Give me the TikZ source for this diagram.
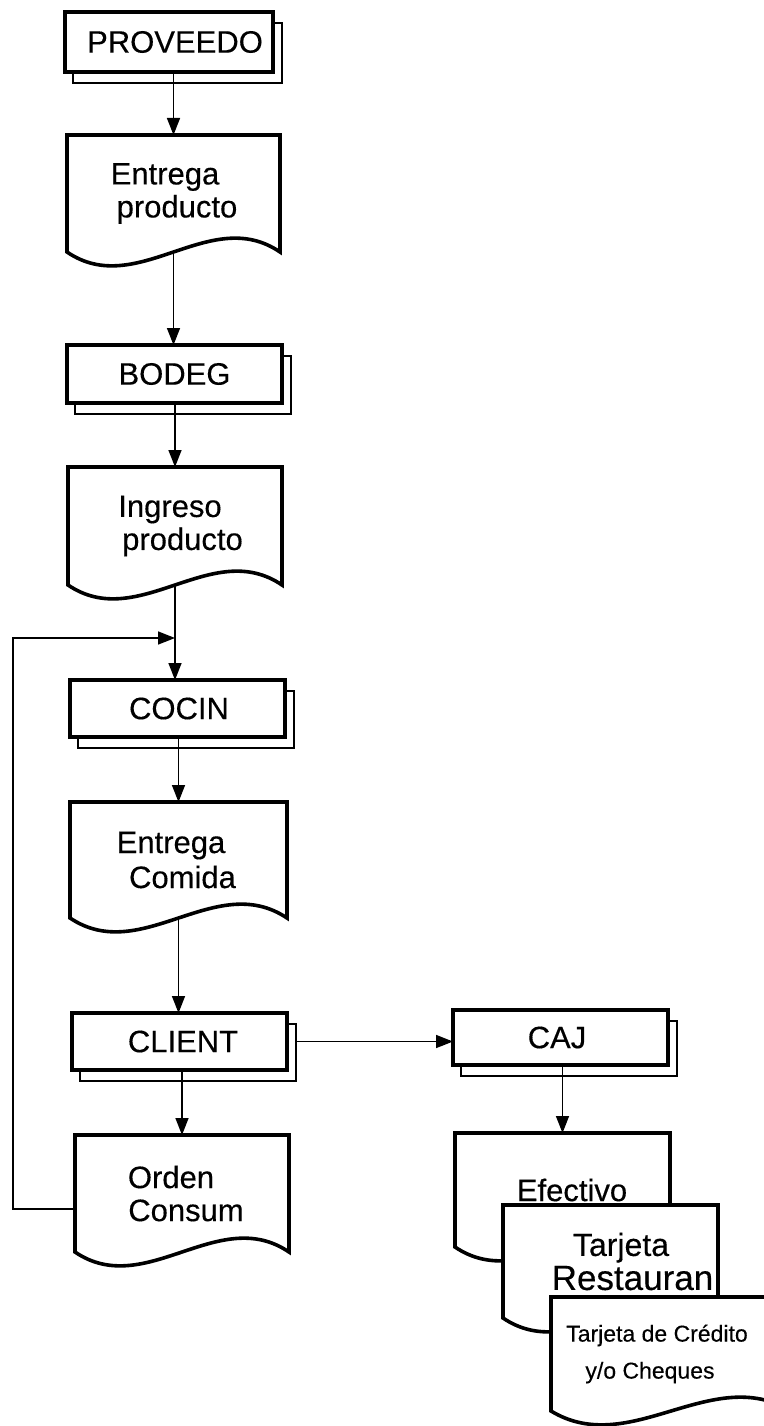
\documentclass[tikz,border=0pt]{standalone}
\usepackage{fontspec}
\setmainfont{Liberation Sans}[FakeBold=0.3]
\usetikzlibrary{arrows.meta,calc,backgrounds}
\newcommand{\lsh}[2]{\mbox{\hspace*{#1pt}#2\hspace*{-#1pt}}}
\newcommand{\docshape}[1]{\draw[docline] (#1.north west) -- (#1.north east) -- (#1.south east) .. controls ($(#1.south east)!0.33!(#1.south west)+(0,-48)$) and ($(#1.south west)!0.33!(#1.south east)+(0,48)$) .. (#1.south west) -- cycle;}
\newcommand{\boxshadow}[1]{\draw[shadowline] ($(#1.south west)+(8,11)$) rectangle ($(#1.north east)+(9,11)$);}
\tikzset{
  boxn/.style={draw, line width=3.6pt, fill=white, minimum width=215pt, minimum height=57pt, inner sep=0pt, outer sep=0pt, font=\fontsize{31}{33}\selectfont},
  docn/.style={inner sep=0pt, outer sep=0pt, align=center, font=\fontsize{31}{33}\selectfont},
  docline/.style={draw, line width=3.6pt, fill=white},
  shadowline/.style={draw, line width=2.6pt, fill=white},
  arr/.style={line width=1.6pt, -{Triangle[length=17pt,width=13pt]}}
}
\begin{document}
\begin{tikzpicture}[x=1pt, y=-1pt]
\useasboundingbox (0,0) rectangle (763,1426);
% nodes
\node[boxn, minimum width=208pt, minimum height=60pt] (prov) at (169,42) {\lsh{6}{PROVEEDO}};
\node[docn, minimum width=213pt, minimum height=117pt] (d1) at (173.5,193.5) {\lsh{-8.5}{Entrega}\\\lsh{3.5}{producto}};
\node[boxn, minimum height=58pt] (bodeg) at (174.5,374) {BODEG};
\node[docn, minimum width=214pt, minimum height=118pt] (d2) at (175,526) {\lsh{-5}{Ingreso}\\\lsh{7.5}{producto}};
\node[boxn] (cocin) at (177.5,708.5) {\lsh{1.5}{COCIN}};
\node[docn, minimum width=217pt, minimum height=116pt, font=\fontsize{31}{35}\selectfont] (d3) at (178.5,860) {\lsh{-7.5}{Entrega}\\\lsh{4}{Comida}};
\node[boxn] (client) at (179.5,1041.5) {\lsh{3.5}{CLIENT}};
\node[docn, minimum width=214pt, minimum height=117pt] (d4) at (182,1193.5) {\lsh{-11}{Orden}\\\lsh{4}{Consum}};
\node[boxn, minimum height=55pt] (caj) at (560.5,1037.5) {\lsh{-3.5}{CAJ}};
\node[docn, minimum width=215pt, minimum height=114pt] (d5) at (562.5,1190) {\lsh{9.5}{Efectivo}};
\node[docn, minimum width=215pt, minimum height=113pt, font=\fontsize{32}{34}\selectfont] (d6) at (610.5,1261.5) {\lsh{10.5}{Tarjeta}\\\lsh{22}{\fontsize{35}{34}\selectfont Restauran}};
\node[docn, minimum width=240pt, minimum height=114pt, font=\fontsize{23}{37}\selectfont] (d7) at (671,1354) {\lsh{-14}{Tarjeta de Crédito}\\\lsh{-21}{y/o Cheques}};
% shapes behind
\begin{scope}[on background layer]
  \fill[white] (0,0) rectangle (763,1426);
  \boxshadow{prov}
  \boxshadow{bodeg}
  \boxshadow{cocin}
  \boxshadow{client}
  \boxshadow{caj}
  \docshape{d1}
  \docshape{d2}
  \docshape{d3}
  \docshape{d4}
  \docshape{d5}
  \docshape{d6}
  \docshape{d7}
\end{scope}
% connectors
\coordinate (fb) at (13,638);
\coordinate (join) at (d2.south |- fb);
\draw[arr] (d1.north |- prov.south) -- (d1.north);
\draw[arr] (d1.south) -- (d1.south |- bodeg.north);
\draw[arr] (d2.north |- bodeg.south) -- (d2.north);
\draw[arr] (d2.south) -- (d2.south |- cocin.north);
\draw[arr] ([yshift=-15.5pt]d4.west) -| (fb) -- (join);
\draw[arr] (d3.north |- cocin.south) -- (d3.north);
\draw[arr] (d3.south) -- (d3.south |- client.north);
\draw[arr] (d4.north |- client.south) -- (d4.north);
\draw[arr] ([xshift=9pt]client.east) -- (client.east -| caj.west);
\draw[arr] (d5.north |- caj.south) -- (d5.north);
\end{tikzpicture}
\end{document}
